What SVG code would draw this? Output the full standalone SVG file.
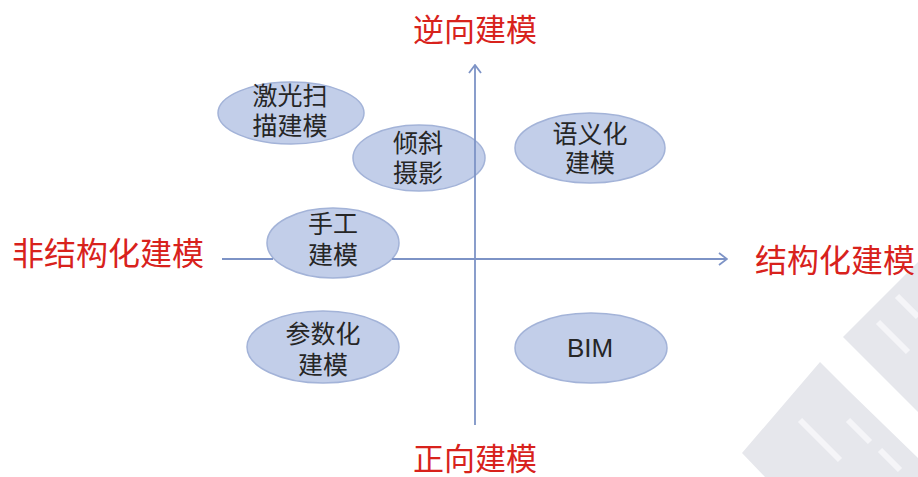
<svg xmlns="http://www.w3.org/2000/svg" width="918" height="477" viewBox="0 0 918 477">
<defs>
<style>
.bg{fill:#ffffff}
.wm{fill:#e6e7ec}
.wml{stroke:#f5f5f8;stroke-width:6;fill:none}
.node{fill:#c2cee9;stroke:#a3b3d8;stroke-width:1.5}
.nt{font-family:"Liberation Sans","Noto Sans CJK SC",sans-serif;font-size:25px;fill:#262626;text-anchor:middle}
.bim{font-family:"Liberation Sans",Arial,sans-serif;font-size:26px;fill:#262626;text-anchor:middle}
.lab{font-family:"Liberation Sans","Noto Sans CJK SC",sans-serif;font-size:31px;fill:#d8221c;text-anchor:middle}
.big{font-size:32px}
.axis{stroke:#7d93c6;stroke-width:1.8;fill:none}
</style>
<marker id="arr" viewBox="0 0 10 14" refX="9" refY="7" markerWidth="10" markerHeight="14" markerUnits="userSpaceOnUse" orient="auto">
<path d="M1,1 L9,7 L1,13" fill="none" stroke="#7d93c6" stroke-width="1.8"/>
</marker>
</defs>
<rect class="bg" x="0" y="0" width="918" height="477"/>
<g id="watermark">
<polygon class="wm" points="843,337 918,262 918,412"/>
<polygon class="wm" points="742,453 820,362 848,390 918,458 918,477 765,477"/>
<line class="wml" x1="878" y1="322" x2="908" y2="352"/>
<line class="wml" x1="897" y1="296" x2="918" y2="317"/>
<line class="wml" x1="800" y1="420" x2="840" y2="460"/>
<line class="wml" x1="848" y1="420" x2="870" y2="442"/>
<line class="wml" x1="880" y1="450" x2="900" y2="470"/>
</g>
<g id="labels">
<text class="lab" x="475" y="41">逆向建模</text>
<text class="lab" x="475" y="470">正向建模</text>
<text class="lab big" x="108" y="265">非结构化建模</text>
<text class="lab big" x="835" y="272">结构化建模</text>
</g>
<g id="node-laser">
<ellipse class="node" cx="291" cy="113" rx="73" ry="31"/>
<text class="nt" x="290" y="105">激光扫</text>
<text class="nt" x="290" y="135">描建模</text>
</g>
<g id="node-oblique">
<ellipse class="node" cx="419" cy="158" rx="66" ry="33"/>
<text class="nt" x="418" y="152">倾斜</text>
<text class="nt" x="418" y="182">摄影</text>
</g>
<g id="node-semantic">
<ellipse class="node" cx="590" cy="148" rx="75" ry="35"/>
<text class="nt" x="590" y="143">语义化</text>
<text class="nt" x="590" y="172">建模</text>
</g>
<g id="node-manual">
<ellipse class="node" cx="333" cy="243" rx="66" ry="35"/>
<text class="nt" x="333" y="233">手工</text>
<text class="nt" x="333" y="264">建模</text>
</g>
<g id="node-param">
<ellipse class="node" cx="323" cy="347" rx="76" ry="36"/>
<text class="nt" x="323" y="343">参数化</text>
<text class="nt" x="323" y="374">建模</text>
</g>
<g id="node-bim">
<ellipse class="node" cx="591" cy="348" rx="76" ry="35"/>
<text class="bim" x="590" y="357">BIM</text>
</g>
<g id="connectors">
<line class="axis" x1="222" y1="259" x2="273" y2="259"/>
<line class="axis" x1="392" y1="259" x2="727" y2="259" marker-end="url(#arr)"/>
<line class="axis" x1="475" y1="425" x2="475" y2="65" marker-end="url(#arr)"/>
</g>
</svg>
